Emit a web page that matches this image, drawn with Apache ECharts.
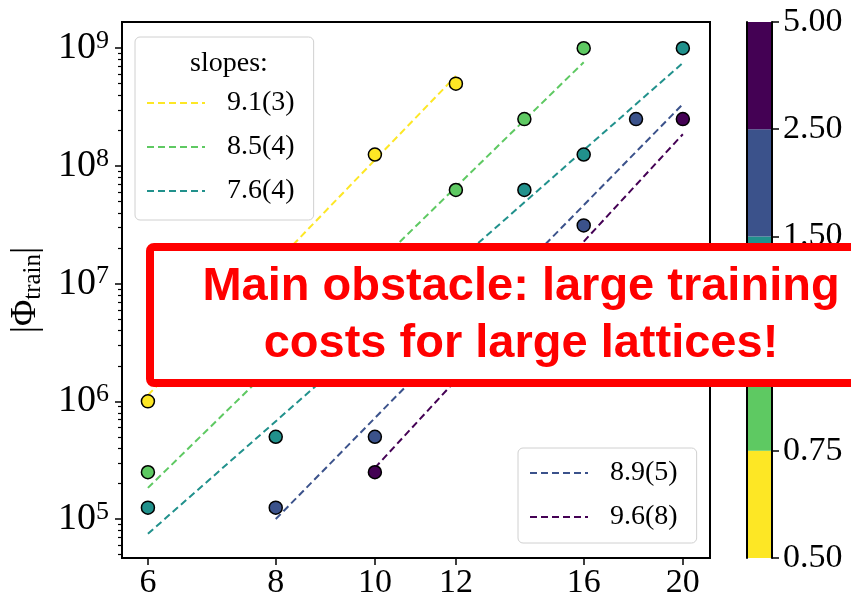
<!DOCTYPE html>
<html>
<head>
<meta charset="utf-8">
<script src="https://cdn.jsdelivr.net/npm/echarts@6/dist/echarts.min.js"></script>
<style>
  html, body { margin: 0; padding: 0; background: #ffffff; }
  #chart { width: 851px; height: 600px; }
</style>
</head>
<body>
<div id="chart"></div>
<script>
// Training-set size |Φ_train| versus lattice size L, one group per parameter bin.
const binColors = ['#fde725', '#5ec962', '#21918c', '#3b528b', '#440154'];
const binEdgeLabels = ['0.50', '0.75', '1.00', '1.50', '2.50', '5.00'];
const binSpans = [1, 1, 1, 1, 1];

const pointsL = [
  [6, 10, 12],
  [6, 12, 14, 16],
  [6, 8, 14, 16, 20],
  [8, 10, 16, 18],
  [10, 20]
];
const pointsN = [
  [1e6, 1.25e8, 5e8],
  [2.5e5, 6.25e7, 2.5e8, 1e9],
  [1.25e5, 5e5, 6.25e7, 1.25e8, 1e9],
  [1.25e5, 5e5, 3.125e7, 2.5e8],
  [2.5e5, 2.5e8]
];

// Power-law fits, drawn between their end points
const fitL = [
  [6, 12],
  [6, 16],
  [6, 20],
  [8, 20],
  [10, 20]
];
const fitN = [
  [1.13e6, 5.8e8],
  [1.84e5, 7.6e8],
  [7.5e4, 7.5e8],
  [1.0e5, 3.35e8],
  [2.72e5, 1.86e8]
];
const slopeLabels = ['9.1(3)', '8.5(4)', '7.6(4)', '8.9(5)', '9.6(8)'];

// Axis ticks
const xTicks = [6, 8, 10, 12, 16, 20];
const yExponents = [5, 6, 7, 8, 9];
const yMinorDecades = [4, 5, 6, 7, 8];
const yMinorMantissas = [2, 3, 4, 5, 6, 7, 8, 9];
const xRange = [5.66, 21.26];
const yRange = [4.67e4, 1.67e9];

const serif = '"Liberation Serif", "DejaVu Serif", serif';

const yMajor = yExponents.map(e => Math.pow(10, e));
const yMinor = [];
yMinorDecades.forEach(d => yMinorMantissas.forEach(m => {
  const v = m * Math.pow(10, d);
  if (v >= yRange[0] && v <= yRange[1]) yMinor.push(v);
}));

// Dashed legend sample: 58 x 2 units
const dashIcon = 'path://M0,0h7v2h-7z M11,0h7v2h-7z M22,0h7v2h-7z M33,0h7v2h-7z M44,0h7v2h-7z M55,0h3v2h-3z';

const series = [];
fitL.forEach((ls, i) => {
  series.push({
    name: slopeLabels[i],
    type: 'line',
    xAxisIndex: 0, yAxisIndex: 0,
    data: ls.map((l, j) => [l, fitN[i][j]]),
    symbol: 'none',
    color: binColors[i],
    lineStyle: { color: binColors[i], width: 2, type: [7, 4] },
    itemStyle: { color: binColors[i] },
    silent: true,
    z: 2
  });
});
pointsL.forEach((ls, i) => {
  series.push({
    name: 'bin ' + binEdgeLabels[i],
    type: 'scatter',
    xAxisIndex: 0, yAxisIndex: 0,
    data: ls.map((l, j) => [l, pointsN[i][j]]),
    symbol: 'circle',
    symbolSize: 13,
    itemStyle: { color: binColors[i], borderColor: '#000', borderWidth: 1.5, opacity: 1 },
    z: 3
  });
});
// Colorbar segments
binSpans.forEach((s, i) => {
  series.push({
    name: 'cb ' + i,
    type: 'bar',
    xAxisIndex: 1, yAxisIndex: 2,
    stack: 'cb',
    data: [s],
    barWidth: '100%',
    itemStyle: { color: binColors[i] },
    silent: true
  });
});

const legendCommon = {
  orient: 'vertical',
  itemWidth: 58,
  itemHeight: 2,
  itemGap: 14,
  selectedMode: false,
  borderColor: '#d0d0d0',
  borderWidth: 1,
  borderRadius: 5,
  backgroundColor: 'rgba(255,255,255,0.8)',
  itemStyle: { borderWidth: 0 },
  textStyle: { fontFamily: serif, fontSize: 28, color: '#000', lineHeight: 30, padding: [0, 0, 0, 17] },
  z: 5
};

const option = {
  animation: false,
  backgroundColor: '#ffffff',
  title: {
    text: 'slopes:',
    left: 224,
    top: 45,
    textAlign: 'center',
    textStyle: { fontFamily: serif, fontSize: 28, fontWeight: 'normal', color: '#000' },
    z: 6
  },
  legend: [
    Object.assign({}, legendCommon, {
      left: 135, top: 37, padding: [51, 19, 14, 12],
      data: slopeLabels.slice(0, 3).map(n => ({ name: n, icon: dashIcon }))
    }),
    Object.assign({}, legendCommon, {
      left: 518, top: 448, padding: [10, 19, 11, 12],
      data: slopeLabels.slice(3).map(n => ({ name: n, icon: dashIcon }))
    })
  ],
  grid: [
    { left: 121, top: 22, width: 589, height: 536, show: true, borderColor: '#000', borderWidth: 2, backgroundColor: 'transparent' },
    { left: 747, top: 22, width: 25, height: 536, show: false }
  ],
  xAxis: [
    {
      type: 'log', gridIndex: 0, min: xRange[0], max: xRange[1],
      axisLine: { show: true, lineStyle: { color: '#000', width: 2 } },
      axisTick: { show: true, inside: false, length: 7, lineStyle: { color: '#000', width: 1.5 }, customValues: xTicks },
      axisLabel: { show: true, customValues: xTicks, margin: 8, fontFamily: serif, fontSize: 34, color: '#000',
        formatter: v => String(Math.round(v)) },
      splitLine: { show: false }, minorTick: { show: false }
    },
    {
      type: 'category', gridIndex: 1, data: ['cb'], boundaryGap: true,
      axisLine: { show: false }, axisTick: { show: false }, axisLabel: { show: false }, splitLine: { show: false }
    }
  ],
  yAxis: [
    {
      type: 'log', gridIndex: 0, min: yRange[0], max: yRange[1], position: 'left',
      axisLine: { show: true, lineStyle: { color: '#000', width: 2 } },
      axisTick: { show: true, inside: false, length: 7, lineStyle: { color: '#000', width: 1.5 }, customValues: yMajor },
      axisLabel: {
        show: true, customValues: yMajor, margin: 13, color: '#000',
        formatter: v => '{b|10}{e|' + Math.round(Math.log10(v)) + '}',
        rich: {
          b: { fontFamily: serif, fontSize: 38, lineHeight: 40, color: '#000' },
          e: { fontFamily: serif, fontSize: 26, lineHeight: 26, verticalAlign: 'top', color: '#000' }
        }
      },
      splitLine: { show: false }, minorTick: { show: false },
      name: '{p||}{f|Φ}{s|train}{p||}',
      nameLocation: 'middle', nameRotate: 90, nameGap: 76,
      nameTextStyle: {
        color: '#000',
        rich: {
          p: { fontFamily: serif, fontSize: 36, lineHeight: 40, color: '#000' },
          f: { fontFamily: serif, fontSize: 36, lineHeight: 40, color: '#000' },
          s: { fontFamily: serif, fontSize: 25, lineHeight: 25, verticalAlign: 'bottom', color: '#000' }
        }
      }
    },
    {
      type: 'log', gridIndex: 0, min: yRange[0], max: yRange[1], position: 'left', offset: 0,
      axisLine: { show: false },
      axisTick: { show: true, inside: false, length: 4, lineStyle: { color: '#000', width: 1.2 }, customValues: yMinor },
      axisLabel: { show: false },
      splitLine: { show: false }, minorTick: { show: false }
    },
    {
      type: 'value', gridIndex: 1, min: 0, max: 5, interval: 1, position: 'right', z: 5,
      axisLine: { show: true, lineStyle: { color: '#000', width: 2 } },
      axisTick: { show: true, inside: false, length: 7, lineStyle: { color: '#000', width: 1.5 } },
      axisLabel: { show: true, margin: 11, fontFamily: serif, fontSize: 34, color: '#000',
        formatter: v => binEdgeLabels[Math.round(v)] },
      splitLine: { show: false }
    },
    {
      type: 'value', gridIndex: 1, min: 0, max: 5, interval: 1, position: 'left', z: 5,
      axisLine: { show: true, onZero: false, lineStyle: { color: '#000', width: 2 } },
      axisTick: { show: false }, axisLabel: { show: false }, splitLine: { show: false }
    }
  ],
  series: series,
  graphic: [
    {
      type: 'rect', z: 100,
      shape: { x: 150, y: 247, width: 742, height: 136, r: 4 },
      style: { fill: '#ffffff', stroke: '#ff0000', lineWidth: 8 }
    },
    {
      type: 'text', z: 101, x: 521, y: 316,
      style: {
        text: 'Main obstacle: large training\ncosts for large lattices!',
        fontFamily: '"Liberation Sans", Arial, sans-serif', fontSize: 47, fontWeight: 'bold',
        fill: '#ff0000', align: 'center', verticalAlign: 'middle', lineHeight: 57
      }
    }
  ]
};

const chart = echarts.init(document.getElementById('chart'), null, { renderer: 'canvas' });
chart.setOption(option);
</script>
</body>
</html>
